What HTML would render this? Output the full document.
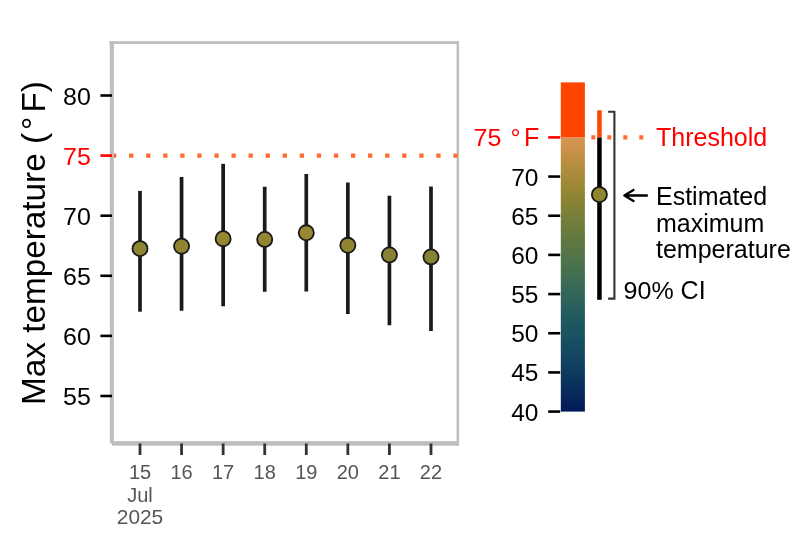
<!DOCTYPE html>
<html><head><meta charset="utf-8"><style>
html,body{margin:0;padding:0;background:#fff;width:800px;height:550px;overflow:hidden}
svg{display:block;will-change:transform}
text{font-family:"Liberation Sans",sans-serif}
</style></head><body>
<svg width="800" height="550" viewBox="0 0 800 550">
<rect width="800" height="550" fill="#fff"/>
<rect x="109.5" y="41.2" width="349.5" height="2.7" fill="#bebebe"/>
<rect x="456.6" y="41.2" width="2.5" height="404.5" fill="#bebebe"/>
<line x1="112" y1="155.6" x2="458" y2="155.6" stroke="#ff6a33" stroke-width="4.27" stroke-dasharray="4.27 12.8"/>
<rect x="109.8" y="41.2" width="4.1" height="402.3" fill="#bebebe"/>
<rect x="112" y="441.1" width="346.9" height="4.6" fill="#bebebe"/>
<line x1="100.4" y1="95.50" x2="112" y2="95.50" stroke="#000000" stroke-width="2.6"/>
<text transform="translate(90.8,104.50) scale(1,0.93)" text-anchor="end" font-size="25" fill="#000000">80</text>
<line x1="100.4" y1="155.60" x2="112" y2="155.60" stroke="#ff0000" stroke-width="2.6"/>
<text transform="translate(90.8,164.60) scale(1,0.93)" text-anchor="end" font-size="25" fill="#ff0000">75</text>
<line x1="100.4" y1="215.70" x2="112" y2="215.70" stroke="#000000" stroke-width="2.6"/>
<text transform="translate(90.8,224.70) scale(1,0.93)" text-anchor="end" font-size="25" fill="#000000">70</text>
<line x1="100.4" y1="275.80" x2="112" y2="275.80" stroke="#000000" stroke-width="2.6"/>
<text transform="translate(90.8,284.80) scale(1,0.93)" text-anchor="end" font-size="25" fill="#000000">65</text>
<line x1="100.4" y1="335.90" x2="112" y2="335.90" stroke="#000000" stroke-width="2.6"/>
<text transform="translate(90.8,344.90) scale(1,0.93)" text-anchor="end" font-size="25" fill="#000000">60</text>
<line x1="100.4" y1="396.00" x2="112" y2="396.00" stroke="#000000" stroke-width="2.6"/>
<text transform="translate(90.8,405.00) scale(1,0.93)" text-anchor="end" font-size="25" fill="#000000">55</text>
<line x1="140.00" y1="443.5" x2="140.00" y2="455" stroke="#333333" stroke-width="2.8"/>
<text x="140.00" y="478.7" text-anchor="middle" font-size="20" fill="#555555">15</text>
<line x1="181.57" y1="443.5" x2="181.57" y2="455" stroke="#333333" stroke-width="2.8"/>
<text x="181.57" y="478.7" text-anchor="middle" font-size="20" fill="#555555">16</text>
<line x1="223.14" y1="443.5" x2="223.14" y2="455" stroke="#333333" stroke-width="2.8"/>
<text x="223.14" y="478.7" text-anchor="middle" font-size="20" fill="#555555">17</text>
<line x1="264.71" y1="443.5" x2="264.71" y2="455" stroke="#333333" stroke-width="2.8"/>
<text x="264.71" y="478.7" text-anchor="middle" font-size="20" fill="#555555">18</text>
<line x1="306.28" y1="443.5" x2="306.28" y2="455" stroke="#333333" stroke-width="2.8"/>
<text x="306.28" y="478.7" text-anchor="middle" font-size="20" fill="#555555">19</text>
<line x1="347.85" y1="443.5" x2="347.85" y2="455" stroke="#333333" stroke-width="2.8"/>
<text x="347.85" y="478.7" text-anchor="middle" font-size="20" fill="#555555">20</text>
<line x1="389.42" y1="443.5" x2="389.42" y2="455" stroke="#333333" stroke-width="2.8"/>
<text x="389.42" y="478.7" text-anchor="middle" font-size="20" fill="#555555">21</text>
<line x1="430.99" y1="443.5" x2="430.99" y2="455" stroke="#333333" stroke-width="2.8"/>
<text x="430.99" y="478.7" text-anchor="middle" font-size="20" fill="#555555">22</text>
<text x="140" y="502.2" text-anchor="middle" font-size="20" fill="#555555">Jul</text>
<text transform="translate(140,523.5) scale(1.045,1)" text-anchor="middle" font-size="20" fill="#555555">2025</text>
<line x1="140.00" y1="190.9" x2="140.00" y2="311.7" stroke="#1a1a1a" stroke-width="3.7"/>
<line x1="181.57" y1="176.9" x2="181.57" y2="310.85" stroke="#1a1a1a" stroke-width="3.7"/>
<line x1="223.14" y1="163.85" x2="223.14" y2="306.3" stroke="#1a1a1a" stroke-width="3.7"/>
<line x1="264.71" y1="186.75" x2="264.71" y2="291.75" stroke="#1a1a1a" stroke-width="3.7"/>
<line x1="306.28" y1="174" x2="306.28" y2="291.5" stroke="#1a1a1a" stroke-width="3.7"/>
<line x1="347.85" y1="182.5" x2="347.85" y2="314" stroke="#1a1a1a" stroke-width="3.7"/>
<line x1="389.42" y1="195.75" x2="389.42" y2="325.25" stroke="#1a1a1a" stroke-width="3.7"/>
<line x1="430.99" y1="186.5" x2="430.99" y2="331" stroke="#1a1a1a" stroke-width="3.7"/>
<circle cx="140.00" cy="248.6" r="7.55" fill="#8d8532" stroke="#1a1a1a" stroke-width="1.8"/>
<circle cx="181.57" cy="246.2" r="7.55" fill="#8f8531" stroke="#1a1a1a" stroke-width="1.8"/>
<circle cx="223.14" cy="238.7" r="7.55" fill="#958731" stroke="#1a1a1a" stroke-width="1.8"/>
<circle cx="264.71" cy="239.4" r="7.55" fill="#948631" stroke="#1a1a1a" stroke-width="1.8"/>
<circle cx="306.28" cy="232.8" r="7.55" fill="#9a8733" stroke="#1a1a1a" stroke-width="1.8"/>
<circle cx="347.85" cy="245.3" r="7.55" fill="#908531" stroke="#1a1a1a" stroke-width="1.8"/>
<circle cx="389.42" cy="254.9" r="7.55" fill="#888334" stroke="#1a1a1a" stroke-width="1.8"/>
<circle cx="430.99" cy="256.9" r="7.55" fill="#878334" stroke="#1a1a1a" stroke-width="1.8"/>
<g transform="translate(45,402.3) rotate(-90)" font-size="33.3" fill="#000"><text x="-2.73" y="0">Max temperature</text><text x="258.2" y="0">(</text><text x="272.4" y="0">°</text><text x="289.7" y="0">F)</text></g>
<defs><linearGradient id="g" x1="0" y1="0" x2="0" y2="1"><stop offset="0.0000" stop-color="#d79557"/><stop offset="0.0286" stop-color="#cf934d"/><stop offset="0.0571" stop-color="#c69045"/><stop offset="0.0857" stop-color="#bc8e41"/><stop offset="0.1143" stop-color="#b28c3e"/><stop offset="0.1429" stop-color="#a78a3a"/><stop offset="0.1714" stop-color="#9e8835"/><stop offset="0.2000" stop-color="#948631"/><stop offset="0.2286" stop-color="#8b8433"/><stop offset="0.2571" stop-color="#818236"/><stop offset="0.2857" stop-color="#797f39"/><stop offset="0.3143" stop-color="#717d3c"/><stop offset="0.3429" stop-color="#697b3e"/><stop offset="0.3714" stop-color="#617941"/><stop offset="0.4000" stop-color="#5a7745"/><stop offset="0.4286" stop-color="#547549"/><stop offset="0.4571" stop-color="#4d734d"/><stop offset="0.4857" stop-color="#477050"/><stop offset="0.5143" stop-color="#3f6e55"/><stop offset="0.5429" stop-color="#386a57"/><stop offset="0.5714" stop-color="#326659"/><stop offset="0.6000" stop-color="#2d625b"/><stop offset="0.6286" stop-color="#275e5d"/><stop offset="0.6571" stop-color="#215a5f"/><stop offset="0.6857" stop-color="#1c5761"/><stop offset="0.7143" stop-color="#1a5361"/><stop offset="0.7429" stop-color="#174f61"/><stop offset="0.7714" stop-color="#154a61"/><stop offset="0.8000" stop-color="#134661"/><stop offset="0.8286" stop-color="#114160"/><stop offset="0.8571" stop-color="#0e3b5f"/><stop offset="0.8857" stop-color="#0c345e"/><stop offset="0.9143" stop-color="#092e5d"/><stop offset="0.9429" stop-color="#06275c"/><stop offset="0.9714" stop-color="#04205a"/><stop offset="1.0000" stop-color="#011959"/></linearGradient></defs>
<rect x="560.8" y="137.40" width="24.1" height="274.19" fill="url(#g)"/>
<rect x="560.8" y="82.4" width="24.1" height="55.00" fill="#ff4500"/>
<line x1="548.2" y1="137.40" x2="560.2" y2="137.40" stroke="#ff0000" stroke-width="2.6"/>
<text transform="translate(473.6,146.30) scale(1,0.94)" font-size="25" fill="#ff0000">75</text>
<text x="510.5" y="146.80" font-size="25" fill="#ff0000">°</text>
<text x="523.95" y="146.00" font-size="25" fill="#ff0000">F</text>
<line x1="548.2" y1="176.57" x2="560.2" y2="176.57" stroke="#000000" stroke-width="2.6"/>
<text transform="translate(538.5,185.57) scale(0.98,0.93)" text-anchor="end" font-size="25" fill="#000">70</text>
<line x1="548.2" y1="215.74" x2="560.2" y2="215.74" stroke="#000000" stroke-width="2.6"/>
<text transform="translate(538.5,224.74) scale(0.98,0.93)" text-anchor="end" font-size="25" fill="#000">65</text>
<line x1="548.2" y1="254.91" x2="560.2" y2="254.91" stroke="#000000" stroke-width="2.6"/>
<text transform="translate(538.5,263.91) scale(0.98,0.93)" text-anchor="end" font-size="25" fill="#000">60</text>
<line x1="548.2" y1="294.08" x2="560.2" y2="294.08" stroke="#000000" stroke-width="2.6"/>
<text transform="translate(538.5,303.08) scale(0.98,0.93)" text-anchor="end" font-size="25" fill="#000">55</text>
<line x1="548.2" y1="333.25" x2="560.2" y2="333.25" stroke="#000000" stroke-width="2.6"/>
<text transform="translate(538.5,342.25) scale(0.98,0.93)" text-anchor="end" font-size="25" fill="#000">50</text>
<line x1="548.2" y1="372.42" x2="560.2" y2="372.42" stroke="#000000" stroke-width="2.6"/>
<text transform="translate(538.5,381.42) scale(0.98,0.93)" text-anchor="end" font-size="25" fill="#000">45</text>
<line x1="548.2" y1="411.59" x2="560.2" y2="411.59" stroke="#000000" stroke-width="2.6"/>
<text transform="translate(538.5,420.59) scale(0.98,0.93)" text-anchor="end" font-size="25" fill="#000">40</text>
<line x1="591.3" y1="137.3" x2="645.3" y2="137.3" stroke="#ff6a33" stroke-width="4.2" stroke-dasharray="4 12"/>
<rect x="597.2" y="110.3" width="4.5" height="27.2" fill="#ff4500"/>
<rect x="597.2" y="137.5" width="4.5" height="162.3" fill="#000000"/>
<circle cx="599.4" cy="194.6" r="7.55" fill="#918630" stroke="#1a1a1a" stroke-width="1.8"/>
<path d="M608.1 111.7 H614.4 V298.6 H608.1" fill="none" stroke="#333333" stroke-width="2.1"/>
<path d="M624.5 195.5 H647.8 M634.3 189.6 L624.3 195.5 L634.3 201.4" fill="none" stroke="#000" stroke-width="2.3" stroke-linejoin="round"/>
<text x="656" y="204.7" font-size="25" fill="#000">Estimated</text>
<text x="656" y="231.7" font-size="25" fill="#000">maximum</text>
<text x="656" y="258.4" font-size="25" fill="#000">temperature</text>
<text transform="translate(623.6,299.2) scale(1,0.93)" font-size="25" fill="#000">90%</text>
<text x="680.58" y="299.2" font-size="25" fill="#000">CI</text>
<text x="656" y="145.5" font-size="25" fill="#ff0000">Threshold</text>
</svg></body></html>
